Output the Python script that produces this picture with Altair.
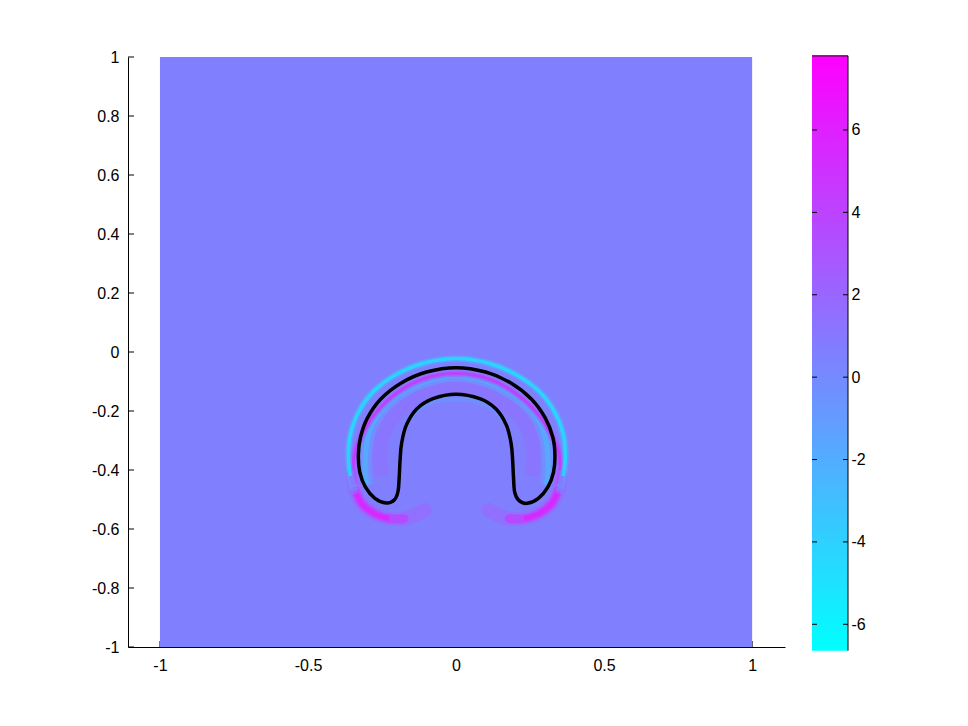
import altair as alt
import pandas as pd

# ---------------- data ----------------
x_ticks = [-1, -0.5, 0, 0.5, 1]
y_ticks = [-1, -0.8, -0.6, -0.4, -0.2, 0, 0.2, 0.4, 0.6, 0.8, 1]
cb_ticks = [-6, -4, -2, 0, 2, 4, 6]
cb_limits = [-6.64, 7.80]          # colour limits of the colorbar
field_extent = [-1, 1]             # image extent in x and y
background_value = 0.58            # value of the quiescent field

# black interface contour (closed)
contour_x = [0.000, 0.080, 0.135, 0.170, 0.186, 0.191, 0.194, 0.198,
             0.212, 0.240, 0.278, 0.310, 0.329,
             0.334, 0.327, 0.302, 0.255, 0.185, 0.100,
             0.000,
             -0.100, -0.185, -0.255, -0.300, -0.323, -0.330, -0.325, -0.306,
             -0.274, -0.236, -0.208, -0.196,
             -0.192, -0.189, -0.184, -0.168, -0.133, -0.078]
contour_y = [-0.143, -0.158, -0.193, -0.248, -0.310, -0.365, -0.425, -0.475,
             -0.503, -0.513, -0.496, -0.458, -0.408,
             -0.350, -0.290, -0.225, -0.160, -0.105, -0.068,
             -0.053,
             -0.068, -0.105, -0.160, -0.225, -0.290, -0.350, -0.408, -0.458,
             -0.496, -0.512, -0.501, -0.472,
             -0.425, -0.365, -0.310, -0.248, -0.193, -0.158]

# cyan outer ring
cyan_x = [-0.340, -0.357, -0.364, -0.357, -0.330, -0.280, -0.205, -0.110, 0.000,
          0.110, 0.205, 0.282, 0.334, 0.362, 0.369, 0.362, 0.346]
cyan_y = [-0.480, -0.420, -0.350, -0.280, -0.205, -0.135, -0.078, -0.038, -0.022,
          -0.038, -0.078, -0.135, -0.205, -0.280, -0.350, -0.420, -0.480]
cyan_value = -5.5

# magenta band hugging the outer contour
mag_x = [-0.345, -0.348, -0.342, -0.318, -0.270, -0.197, -0.105, 0.000,
         0.105, 0.197, 0.272, 0.322, 0.348, 0.352, 0.348]
mag_y = [-0.450, -0.400, -0.345, -0.280, -0.205, -0.137, -0.090, -0.073,
         -0.090, -0.137, -0.205, -0.280, -0.345, -0.400, -0.450]
mag_value = 4.5

# magenta crescents under the two lobes
blob_left_x = [-0.348, -0.340, -0.318, -0.276, -0.226, -0.176, -0.136, -0.106]
blob_left_y = [-0.420, -0.470, -0.515, -0.548, -0.565, -0.565, -0.552, -0.535]
blob_right_x = [0.352, 0.345, 0.322, 0.280, 0.230, 0.180, 0.140, 0.110]
blob_right_y = [-0.420, -0.470, -0.515, -0.548, -0.565, -0.565, -0.552, -0.535]
blob_value = 6.0

# light-blue band just inside the outer contour
inblue_x = [-0.300, -0.307, -0.305, -0.298, -0.275, -0.232, -0.168, -0.090, 0.000,
            0.090, 0.168, 0.234, 0.278, 0.302, 0.309, 0.311, 0.304]
inblue_y = [-0.450, -0.400, -0.350, -0.290, -0.230, -0.175, -0.128, -0.095, -0.080,
            -0.095, -0.128, -0.175, -0.230, -0.290, -0.350, -0.400, -0.450]
inblue_value = -3.0

# purple glow in the middle of the ring
glow_x = [-0.250, -0.258, -0.245, -0.210, -0.150, -0.075, 0.000,
          0.075, 0.150, 0.215, 0.250, 0.262, 0.255]
glow_y = [-0.420, -0.350, -0.280, -0.220, -0.170, -0.135, -0.125,
          -0.135, -0.170, -0.220, -0.280, -0.350, -0.420]
glow_value = 2.5

# faint light line under the inner top
under_x = [-0.160, -0.130, -0.075, 0.000, 0.075, 0.130, 0.160]
under_y = [-0.235, -0.195, -0.168, -0.160, -0.168, -0.195, -0.235]
under_value = -2.0

# ---------------- scales / axes ----------------
FONT = "Liberation Sans"
W, H = 657, 590

def tick_label():
    return "datum.value + ''"

xscale = alt.Scale(domain=[-1.108, 1.111], nice=False, zero=False)
yscale = alt.Scale(domain=[-1, 1], nice=False, zero=False)
cscale = alt.Scale(domain=cb_limits, range=["#00ffff", "#ff00ff"], interpolate="rgb")
cbscale = alt.Scale(domain=[-6.551, 7.772], nice=False, zero=False)

xaxis = alt.Axis(values=x_ticks, labelExpr=tick_label(), tickSize=0, labelPadding=10,
                 grid=False, title=None, domainColor="black", labelColor="black",
                 labelFont=FONT, labelFontSize=16, orient="bottom")
yaxis = alt.Axis(values=y_ticks, labelExpr=tick_label(), tickSize=0, labelPadding=9,
                 grid=False, title=None, domainColor="black", labelColor="black",
                 labelFont=FONT, labelFontSize=16, orient="left")
cbaxis = alt.Axis(values=cb_ticks, labelExpr=tick_label(), tickSize=0, labelPadding=3,
                  grid=False, title=None, domain=False, labelColor="black",
                  labelFont=FONT, labelFontSize=16, orient="right", offset=63)

X = lambda f: alt.X(f, scale=xscale, axis=xaxis)
Y = lambda f: alt.Y(f, scale=yscale, axis=yaxis)


def band(xs, ys, val, width, opacity, interp="cardinal", cap="round"):
    df = pd.DataFrame({"x": xs, "y": ys, "o": list(range(len(xs))), "v": [val] * len(xs)})
    return alt.Chart(df).mark_line(
        strokeWidth=width, opacity=opacity, interpolate=interp,
        strokeCap=cap, strokeJoin="round"
    ).encode(
        x=X("x:Q"), y=Y("y:Q"), order="o:Q",
        color=alt.Color("v:Q", scale=cscale, legend=None),
    )


# ---------------- main panel ----------------
xt = alt.Chart(pd.DataFrame({"t": x_ticks})).mark_rule(color="black").encode(
    x=X("t:Q"), y=alt.value(H), y2=alt.value(H - 6))
yt = alt.Chart(pd.DataFrame({"t": y_ticks})).mark_rule(color="black").encode(
    y=Y("t:Q"), x=alt.value(0), x2=alt.value(6))

bg = alt.Chart(pd.DataFrame({
    "x0": [field_extent[0]], "x1": [field_extent[1]],
    "y0": [field_extent[0]], "y1": [field_extent[1]],
    "v": [background_value]})).mark_rect().encode(
    x=X("x0:Q"), x2="x1:Q", y=Y("y0:Q"), y2="y1:Q",
    color=alt.Color("v:Q", scale=cscale, legend=None))

layers = [
    xt, yt, bg,
    band(glow_x, glow_y, glow_value, 14, 0.30, cap="butt"),
    band(under_x, under_y, under_value, 5, 0.35, cap="butt"),
    band(inblue_x, inblue_y, -1.5, 12, 0.40, cap="butt"),
    band(inblue_x, inblue_y, inblue_value, 5, 0.55, cap="butt"),
    band(blob_left_x, blob_left_y, blob_value, 14, 0.18),
    band(blob_right_x, blob_right_y, blob_value, 14, 0.18),
    band(blob_left_x[1:-2], blob_left_y[1:-2], blob_value, 9, 0.45),
    band(blob_right_x[1:-2], blob_right_y[1:-2], blob_value, 9, 0.45),
    band(blob_left_x[1:-3], blob_left_y[1:-3], blob_value + 1, 5, 0.55, cap="butt"),
    band(blob_right_x[1:-3], blob_right_y[1:-3], blob_value + 1, 5, 0.55, cap="butt"),
    band(mag_x, mag_y, mag_value, 7, 0.40, cap="butt"),
    band(mag_x[1:-1], mag_y[1:-1], mag_value + 1.5, 3, 0.60, cap="butt"),
    band(cyan_x, cyan_y, cyan_value, 7, 0.25, cap="butt"),
    band(cyan_x[1:-1], cyan_y[1:-1], cyan_value, 3.5, 0.70, cap="butt"),
    band(contour_x, contour_y, 0, 3.5, 1.0, "cardinal-closed").encode(color=alt.value("black")),
]
main = alt.layer(*layers)

# ---------------- colorbar ----------------
grad = alt.Gradient(gradient="linear",
                    stops=[alt.GradientStop(color="#00ffff", offset=0),
                           alt.GradientStop(color="#ff00ff", offset=1)],
                    x1=0, x2=0, y1=1, y2=0)
cbdf = pd.DataFrame({"lo": [cb_limits[0]], "hi": [cb_limits[1]]})
CBY = lambda f: alt.Y(f, scale=cbscale, axis=cbaxis)
cb_rect = alt.Chart(cbdf).mark_rect(fill=grad).encode(
    x=alt.value(W + 27), x2=alt.value(W + 63), y=CBY("lo:Q"), y2="hi:Q")
cb_right = alt.Chart(cbdf).mark_rule(color="black").encode(
    x=alt.value(W + 63), y=CBY("lo:Q"), y2="hi:Q")
cb_top = alt.Chart(cbdf).mark_rule(color="black").encode(
    x=alt.value(W + 27), x2=alt.value(W + 63), y=CBY("hi:Q"))
cbt = pd.DataFrame({"t": cb_ticks})
cb_tl = alt.Chart(cbt).mark_rule(color="black").encode(
    x=alt.value(W + 27), x2=alt.value(W + 32), y=CBY("t:Q"))
cb_tr = alt.Chart(cbt).mark_rule(color="black").encode(
    x=alt.value(W + 58), x2=alt.value(W + 63), y=CBY("t:Q"))
cb = alt.layer(cb_rect, cb_right, cb_top, cb_tl, cb_tr)

chart = alt.layer(main, cb).resolve_scale(y="independent").properties(
    width=W, height=H,
    autosize=alt.AutoSizeParams(type="none"),
    padding={"left": 120, "top": 49, "right": 170, "bottom": 70},
).configure_view(strokeWidth=0)

chart.save("out.html", embed_options={"renderer": "svg", "actions": False})
